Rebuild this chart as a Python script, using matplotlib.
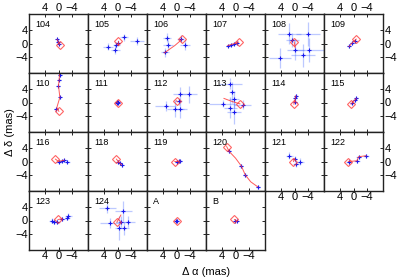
import matplotlib
matplotlib.use("Agg")
import matplotlib.pyplot as plt

# ─── Datos (mas) ─────────────────────────────────────────────────────────────
labels = ["104", "105", "106", "107", "108", "109",
          "110", "111", "112", "113", "114", "115",
          "116", "118", "119", "120", "121", "122",
          "123", "124", "A", "B"]

ra = [
    [-0.2, 0.1, 0.4],
    [0.0, -2.0, -5.8, 2.8, 0.6, 0.3],
    [-1.2, -2.4, 2.8, 2.6, 3.4],
    [2.3, 1.3, 0.3, -0.4],
    [1.5, -4.0, 0.6, 4.2, -2.6, -4.4, -0.2],
    [0.4, 1.2, -0.3],
    [0.8, -0.4, 0.1, -0.2, -0.3],
    [0.1, -0.1, 0.2, -0.2],
    [3.2, -1.0, -3.6, 0.4, -1.0, -0.6],
    [1.6, 1.0, 3.8, 0.5, -2.1, 0.4, 1.5],
    [0.0, -0.2, -0.4],
    [0.3, -0.3, -0.8],
    [0.0, -0.9, -1.7, -2.6],
    [-0.2, -0.7, -1.2],
    [0.0, -0.7, -1.0],
    [1.9, -1.7, -2.9, -6.6],
    [1.5, 0.0, -1.7, -0.4],
    [1.4, -1.0, -1.5, -3.7],
    [1.8, 1.3, 0.3, -1.0, -2.9, -2.6],
    [3.0, -1.7, 2.2, -1.1, -3.1, -2.0, -0.3],
    [0.0, 0.1],
    [0.0, -0.4],
]
dec = [
    [0.0, 0.5, 1.2],
    [0.2, 1.8, 0.8, -0.9, -1.8, -0.4],
    [1.4, -0.4, 1.7, -0.4, -2.6],
    [-0.6, -0.3, 0.0, 0.2],
    [2.9, 2.7, 1.0, -4.3, -3.5, -1.9, -1.8],
    [0.2, -0.8, 0.8],
    [-1.9, 1.5, 5.0, 6.7, 8.0],
    [0.1, -0.1, 0.0, 0.1],
    [-1.0, 2.5, 2.4, -1.9, -2.0, 0.4],
    [5.6, 3.0, -0.4, 0.9, -0.6, -2.7, -1.5],
    [0.2, 1.3, 2.0],
    [0.0, 0.6, 1.2],
    [0.0, 0.2, 0.4, 0.0],
    [0.0, -0.5, -1.0],
    [0.0, 0.2, 0.1],
    [3.0, -1.3, -4.0, -7.5],
    [1.7, 0.8, 0.0, -0.8],
    [0.0, 0.2, 1.4, 1.7],
    [0.0, -0.3, -0.3, 0.5, 1.3, 0.8],
    [3.8, 2.8, -0.8, -0.3, -0.3, -2.3, -2.3],
    [0.0, -0.1],
    [0.0, -0.1],
]
ra_err = [
    [0.3, 0.3, 0.3],
    [0.8, 1.2, 2.0, 1.5, 1.3, 1.0],
    [1.0, 1.5, 1.3, 1.5, 1.3],
    [0.5, 0.5, 0.4, 0.4],
    [3.5, 3.5, 2.0, 3.3, 3.5, 4.5, 2.5],
    [0.6, 0.6, 0.6],
    [0.4, 0.4, 0.4, 0.4, 0.4],
    [0.3, 0.3, 0.3, 0.3],
    [3.0, 2.0, 2.5, 2.5, 2.0, 1.0],
    [3.4, 1.0, 4.0, 1.5, 2.5, 2.0, 2.0],
    [0.4, 0.4, 0.4],
    [0.4, 0.4, 0.4],
    [0.7, 0.7, 0.7, 0.7],
    [0.5, 0.5, 0.5],
    [0.5, 0.5, 0.5],
    [0.6, 0.6, 0.6, 0.6],
    [1.0, 0.8, 1.0, 0.8],
    [0.8, 0.8, 0.8, 0.8],
    [1.0, 1.0, 0.6, 0.8, 1.0, 0.8],
    [2.5, 2.5, 3.0, 1.5, 2.0, 1.5, 1.0],
    [0.3, 0.3],
    [0.3, 0.3],
]
dec_err = [
    [0.3, 0.3, 0.3],
    [0.8, 1.0, 1.2, 1.0, 1.3, 0.8],
    [1.0, 1.5, 1.3, 1.5, 1.3],
    [0.3, 0.3, 0.3, 0.3],
    [3.0, 3.5, 2.0, 3.0, 3.5, 3.5, 3.0],
    [0.6, 0.6, 0.6],
    [0.4, 0.4, 0.4, 0.4, 0.4],
    [0.3, 0.3, 0.3, 0.3],
    [1.5, 2.0, 2.5, 2.5, 2.5, 1.0],
    [1.5, 3.0, 1.0, 2.5, 1.2, 3.5, 3.0],
    [0.4, 0.4, 0.4],
    [0.4, 0.4, 0.4],
    [0.3, 0.3, 0.3, 0.3],
    [0.5, 0.5, 0.5],
    [0.3, 0.3, 0.3],
    [0.6, 0.6, 0.6, 0.6],
    [1.0, 0.8, 1.0, 0.8],
    [0.6, 0.6, 0.6, 0.6],
    [0.6, 0.8, 0.6, 0.6, 0.8, 0.6],
    [1.5, 3.0, 1.5, 1.5, 1.5, 2.0, 3.5],
    [0.3, 0.3],
    [0.3, 0.3],
]

# Posición de referencia (diamante rojo)
ref_ra = [-0.4, 0.0, -1.6, -0.9, 0.1, -0.8, -0.1, 0.0, 0.0, -1.3, 0.2,
          0.7, 0.9, 0.3, 0.5, 2.6, 0.3, 1.5, 0.1, 0.2, 0.0, 0.3]
ref_dec = [-0.3, 0.6, 1.2, 0.4, 0.5, 1.3, -2.6, 0.0, 0.5, -0.4, -0.5,
           -0.5, 0.7, 0.7, 0.0, 4.4, 0.0, 0.0, 0.3, -0.5, 0.0, 0.3]

# Trayectoria del modelo (línea roja)
track_ra = [
    [-0.4, -0.2, 0.1, 0.4],
    [0.0, 0.0],
    [-1.6, 0.5, 2.5, 3.6],
    [-0.9, 0.3, 1.3, 2.3],
    [0.1, -0.2],
    [-0.8, 0.4, 1.3],
    [-0.1, 0.5, -0.4, 0.0, -0.2, -0.3],
    [0.0, 0.1],
    [0.0, -0.3],
    [3.4, 1.0, -1.3],
    [0.2, 0.0, -0.4],
    [0.7, 0.3, -0.8],
    [0.9, 0.0, -1.7],
    [0.3, -0.2, -1.2],
    [0.5, 0.0, -1.0],
    [2.6, 1.9, 0.0, -1.7, -2.9, -4.5, -6.6],
    [0.3, 0.0],
    [1.5, -1.0, -1.5, -3.7],
    [0.1, -1.0],
    [0.2, -1.0],
    [0.0, 0.0],
    [0.3, -0.4],
]
track_dec = [
    [-0.3, 0.0, 0.5, 1.2],
    [0.6, -0.3],
    [1.2, -0.6, -2.0, -2.8],
    [0.4, 0.0, -0.3, -0.6],
    [0.5, -1.2],
    [1.3, 0.2, -0.9],
    [-2.6, -1.5, 1.5, 5.0, 6.8, 8.5],
    [0.0, -0.1],
    [0.5, 0.2],
    [1.2, 0.3, -0.4],
    [-0.5, 0.2, 2.0],
    [-0.5, 0.0, 1.2],
    [0.7, 0.0, 0.4],
    [0.7, 0.0, -1.0],
    [0.0, 0.0, 0.1],
    [4.4, 3.0, 1.0, -1.3, -4.0, -6.0, -7.5],
    [0.0, 0.8],
    [0.0, 0.2, 1.4, 1.7],
    [0.3, 0.5],
    [-0.5, 1.6],
    [0.0, 0.0],
    [0.3, -0.1],
]

ticks = [4, 0, -4]
lim = 8.7

# ─── Figura ──────────────────────────────────────────────────────────────────
fig = plt.figure(figsize=(3.99, 2.80), dpi=100)
plt.rcParams['font.family'] = ['Liberation Sans', 'DejaVu Sans']

W, H = 399.0, 280.0
x0, y0, pw, ph = 29.0, 14.0, 59.0, 59.0
ncol = 6

for i, lab in enumerate(labels):
    r, c = divmod(i, ncol)
    ax = fig.add_axes([(x0 + c * pw) / W, 1 - (y0 + (r + 1) * ph) / H,
                       pw / W, ph / H])

    ax.errorbar(ra[i], dec[i], xerr=ra_err[i], yerr=dec_err[i], fmt='none',
                ecolor='#4466ff', elinewidth=0.9, alpha=0.35, capsize=0)
    ax.plot(ra[i], dec[i], '+', color='#1a1aee', ms=3, mew=0.8)
    ax.plot(track_ra[i], track_dec[i], '-', color='#ff3030', lw=0.7, alpha=0.8)
    ax.plot(ref_ra[i], ref_dec[i], 'D', mfc='none', mec='#ff3030',
            ms=3.6, mew=0.8, alpha=0.75)

    ax.set_xlim(lim, -lim)
    ax.set_ylim(-lim, lim)
    ax.set_xticks(ticks)
    ax.set_yticks(ticks)
    ax.set_xticklabels(['4', '0', '\u22124'])
    ax.set_yticklabels(['4', '0', '\u22124'])

    below_empty = (i + ncol) >= len(labels)
    last_col = (c == ncol - 1)
    ax.tick_params(direction='in', length=2, width=0.6, labelsize=8, pad=1,
                   top=True, right=True,
                   labeltop=(r == 0), labelbottom=below_empty,
                   labelleft=(c == 0), labelright=last_col)
    for s in ax.spines.values():
        s.set_linewidth(1.0)
        s.set_color('#222222')

    ax.text(0.1, 0.9, lab, transform=ax.transAxes, fontsize=6.5,
            ha='left', va='top')

fig.text(10 / W, 1 - 132 / H, '\u0394 \u03b4 (mas)', rotation=90,
         ha='center', va='center', fontsize=8)
fig.text(206 / W, 1 - 272 / H, '\u0394 \u03b1 (mas)',
         ha='center', va='center', fontsize=8)

fig.savefig('out.png', dpi=100)
